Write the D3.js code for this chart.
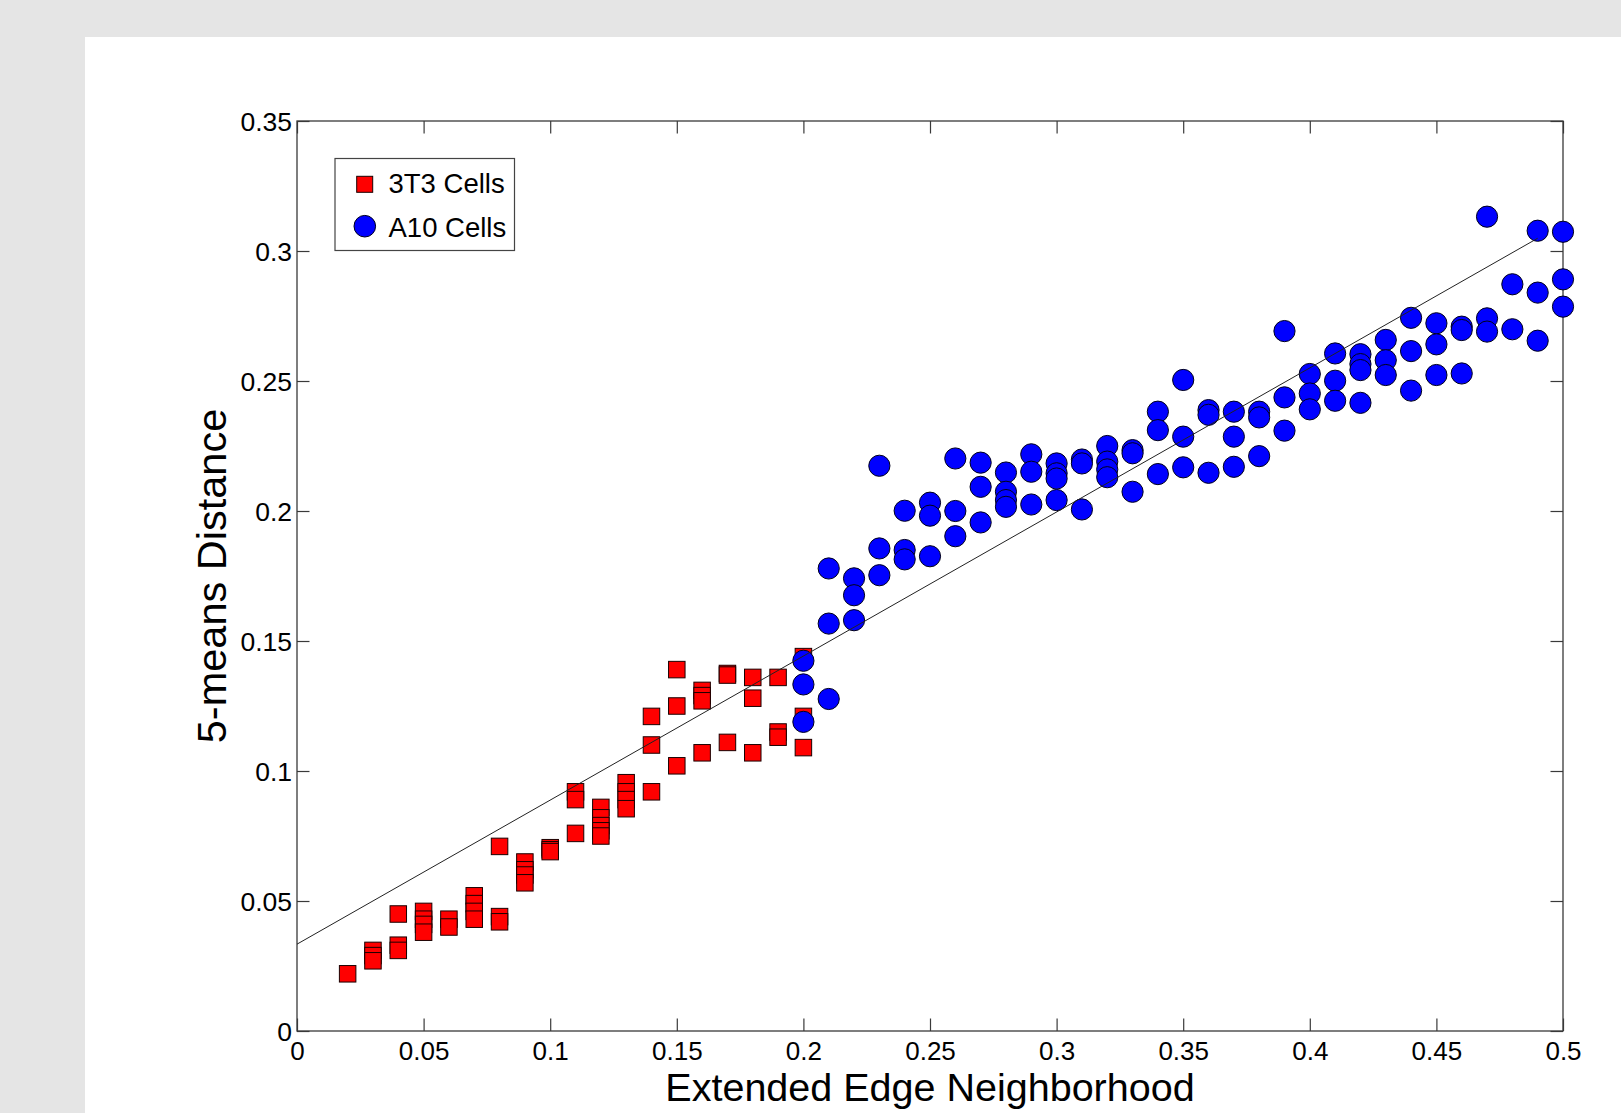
<!DOCTYPE html>
<html>
<head>
<meta charset="utf-8">
<script src="https://cdn.jsdelivr.net/npm/d3@7"></script>
<style>
html,body{margin:0;padding:0;background:#e5e5e5;overflow:hidden}
svg{display:block}
text{font-family:"Liberation Sans",Arial,Helvetica,sans-serif;fill:#000}
</style>
</head>
<body>
<svg id="chart" width="1621" height="1113"></svg>
<script>
// ---- data ----
const xTickValues = [0, 0.05, 0.1, 0.15, 0.2, 0.25, 0.3, 0.35, 0.4, 0.45, 0.5];
const xTickLabels = ["0", "0.05", "0.1", "0.15", "0.2", "0.25", "0.3", "0.35", "0.4", "0.45", "0.5"];
const yTickValues = [0, 0.05, 0.1, 0.15, 0.2, 0.25, 0.3, 0.35];
const yTickLabels = ["0", "0.05", "0.1", "0.15", "0.2", "0.25", "0.3", "0.35"];

const seriesNames = ["3T3 Cells", "A10 Cells"];
const xAxisTitle = "Extended Edge Neighborhood";
const yAxisTitle = "5-means Distance";

const t3X = [0.02,
  0.03, 0.03, 0.03,
  0.04, 0.04, 0.04,
  0.05, 0.05, 0.05, 0.05,
  0.06, 0.06,
  0.07, 0.07, 0.07, 0.07,
  0.08, 0.08, 0.08,
  0.09, 0.09, 0.09, 0.09,
  0.10, 0.10, 0.10,
  0.11, 0.11, 0.11,
  0.12, 0.12, 0.12, 0.12, 0.12,
  0.13, 0.13, 0.13, 0.13,
  0.14, 0.14, 0.14,
  0.15, 0.15, 0.15,
  0.16, 0.16, 0.16, 0.16,
  0.17, 0.17, 0.17,
  0.18, 0.18, 0.18,
  0.19, 0.19, 0.19,
  0.20, 0.20, 0.20];
const t3Y = [0.022,
  0.031, 0.029, 0.027,
  0.045, 0.033, 0.031,
  0.046, 0.043, 0.041, 0.038,
  0.043, 0.040,
  0.052, 0.049, 0.046, 0.043,
  0.071, 0.044, 0.042,
  0.065, 0.062, 0.060, 0.057,
  0.0705, 0.0697, 0.069,
  0.092, 0.089, 0.076,
  0.086, 0.082, 0.079, 0.077, 0.075,
  0.0955, 0.092, 0.089, 0.0855,
  0.121, 0.110, 0.092,
  0.139, 0.125, 0.102,
  0.131, 0.129, 0.127, 0.107,
  0.1375, 0.1369, 0.111,
  0.136, 0.128, 0.107,
  0.136, 0.115, 0.113,
  0.144, 0.121, 0.109];

const a10X = [0.20, 0.20, 0.20,
  0.21, 0.21, 0.21,
  0.22, 0.22, 0.22,
  0.23, 0.23, 0.23,
  0.24, 0.24, 0.24,
  0.25, 0.25, 0.25,
  0.26, 0.26, 0.26,
  0.27, 0.27, 0.27,
  0.28, 0.28, 0.28, 0.28,
  0.29, 0.29, 0.29,
  0.30, 0.30, 0.30, 0.30,
  0.31, 0.31, 0.31,
  0.32, 0.32, 0.32, 0.32,
  0.33, 0.33, 0.33,
  0.34, 0.34, 0.34,
  0.35, 0.35, 0.35,
  0.36, 0.36, 0.36,
  0.37, 0.37, 0.37,
  0.38, 0.38, 0.38,
  0.39, 0.39, 0.39,
  0.40, 0.40, 0.40,
  0.41, 0.41, 0.41,
  0.42, 0.42, 0.42, 0.42,
  0.43, 0.43, 0.43,
  0.44, 0.44, 0.44,
  0.45, 0.45, 0.45,
  0.46, 0.46, 0.46,
  0.47, 0.47, 0.47,
  0.48, 0.48,
  0.49, 0.49, 0.49,
  0.50, 0.50, 0.50];
const a10Y = [0.1424, 0.1333, 0.1189,
  0.1779, 0.1567, 0.1277,
  0.1741, 0.1676, 0.1580,
  0.2174, 0.1856, 0.1753,
  0.2001, 0.1850, 0.1814,
  0.2032, 0.1982, 0.1826,
  0.2202, 0.2000, 0.1903,
  0.2186, 0.2093, 0.1956,
  0.2148, 0.2074, 0.2042, 0.2016,
  0.2218, 0.2151, 0.2025,
  0.2183, 0.2145, 0.2125, 0.2042,
  0.2198, 0.2183, 0.2006,
  0.2250, 0.2190, 0.2160, 0.2130,
  0.2234, 0.2222, 0.2074,
  0.2382, 0.2311, 0.2142,
  0.2504, 0.2286, 0.2168,
  0.2388, 0.2370, 0.2147,
  0.2382, 0.2286, 0.2170,
  0.2382, 0.2360, 0.2211,
  0.2692, 0.2437, 0.2309,
  0.2527, 0.2452, 0.2391,
  0.2606, 0.2501, 0.2424,
  0.2603, 0.2565, 0.2542, 0.2416,
  0.2658, 0.2580, 0.2523,
  0.2743, 0.2615, 0.2463,
  0.2722, 0.2641, 0.2523,
  0.2709, 0.2696, 0.2529,
  0.3132, 0.2741, 0.2690,
  0.2872, 0.2699,
  0.3078, 0.2840, 0.2655,
  0.3074, 0.2891, 0.2786];

const fitX = [0, 0.49];
const fitY = [0.0334, 0.3049];

// ---- layout ----
const W = 1621, H = 1113;
const plot = {left: 297, right: 1563, top: 121, bottom: 1031};
const tickLen = 12.5;
const sqSize = 16.5, circR = 10.6;

const svg = d3.select("#chart");
svg.append("rect").attr("x", 0).attr("y", 0).attr("width", W).attr("height", H).attr("fill", "#e5e5e5");
svg.append("rect").attr("x", 85).attr("y", 37).attr("width", W - 85).attr("height", H - 37).attr("fill", "#ffffff");

const x = d3.scaleLinear().domain([0, 0.5]).range([plot.left, plot.right]);
const y = d3.scaleLinear().domain([0, 0.35]).range([plot.bottom, plot.top]);

const axisColor = "#3a3a3a";

svg.append("rect").attr("x", plot.left).attr("y", plot.top)
  .attr("width", plot.right - plot.left).attr("height", plot.bottom - plot.top)
  .attr("fill", "#fff");

const xLab = d3.scaleOrdinal().domain(xTickValues).range(xTickLabels);
const yLab = d3.scaleOrdinal().domain(yTickValues).range(yTickLabels);

const gx = svg.append("g").attr("transform", `translate(0,${plot.bottom})`)
  .call(d3.axisBottom(x).tickValues(xTickValues).tickFormat(d => xLab(d)).tickSizeInner(-tickLen).tickSizeOuter(0));
const gxt = svg.append("g").attr("transform", `translate(0,${plot.top})`)
  .call(d3.axisTop(x).tickValues(xTickValues).tickFormat("").tickSizeInner(-tickLen).tickSizeOuter(0));
const gy = svg.append("g").attr("transform", `translate(${plot.left},0)`)
  .call(d3.axisLeft(y).tickValues(yTickValues).tickFormat(d => yLab(d)).tickSizeInner(-tickLen).tickSizeOuter(0));
const gyr = svg.append("g").attr("transform", `translate(${plot.right},0)`)
  .call(d3.axisRight(y).tickValues(yTickValues).tickFormat("").tickSizeInner(-tickLen).tickSizeOuter(0));

[gx, gxt, gy, gyr].forEach(g => {
  g.select(".domain").remove();
  g.selectAll(".tick line").attr("stroke", axisColor).attr("stroke-width", 1.2);
  g.attr("font-family", null).attr("font-size", null);
});

gx.selectAll(".tick text")
  .attr("y", 28.8).attr("dy", null)
  .attr("font-size", 26).attr("text-anchor", "middle");
gy.selectAll(".tick text")
  .attr("x", -5).attr("dy", null).attr("y", 9.4)
  .attr("font-size", 26.5).attr("text-anchor", "end");

svg.append("rect").attr("x", plot.left).attr("y", plot.top)
  .attr("width", plot.right - plot.left).attr("height", plot.bottom - plot.top)
  .attr("fill", "none").attr("stroke", axisColor).attr("stroke-width", 1.3);

const t3 = t3X.map((v, i) => ({x: v, y: t3Y[i]}));
const a10 = a10X.map((v, i) => ({x: v, y: a10Y[i]}));

svg.append("g").selectAll("rect").data(t3).join("rect")
  .attr("x", d => x(d.x) - sqSize / 2).attr("y", d => y(d.y) - sqSize / 2)
  .attr("width", sqSize).attr("height", sqSize)
  .attr("fill", "#ff0000").attr("stroke", "#1a0000").attr("stroke-width", 1);

svg.append("g").selectAll("circle").data(a10).join("circle")
  .attr("cx", d => x(d.x)).attr("cy", d => y(d.y)).attr("r", circR)
  .attr("fill", "#0000ff").attr("stroke", "#00001a").attr("stroke-width", 1);

const fit = fitX.map((v, i) => ({x: v, y: fitY[i]}));
svg.append("path").datum(fit)
  .attr("d", d3.line().x(d => x(d.x)).y(d => y(d.y)))
  .attr("fill", "none").attr("stroke", "#222").attr("stroke-width", 1);

svg.append("text").attr("x", (plot.left + plot.right) / 2).attr("y", 1101)
  .attr("text-anchor", "middle").attr("font-size", 39.5).text(xAxisTitle);
svg.append("text")
  .attr("transform", `translate(226,${(plot.top + plot.bottom) / 2}) rotate(-90)`)
  .attr("text-anchor", "middle").attr("font-size", 41.5).text(yAxisTitle);

const lg = svg.append("g");
lg.append("rect").attr("x", 335).attr("y", 158.5).attr("width", 179.5).attr("height", 92)
  .attr("fill", "#fff").attr("stroke", "#444").attr("stroke-width", 1.2);
lg.append("rect").attr("x", 364.7 - 8).attr("y", 184.3 - 8).attr("width", 16).attr("height", 16)
  .attr("fill", "#ff0000").attr("stroke", "#1a0000").attr("stroke-width", 1);
lg.append("circle").attr("cx", 364.8).attr("cy", 226.2).attr("r", 10.8)
  .attr("fill", "#0000ff").attr("stroke", "#00001a").attr("stroke-width", 1);
lg.append("text").attr("x", 388.5).attr("y", 193.3).attr("font-size", 27.5).text(seriesNames[0]);
lg.append("text").attr("x", 388.5).attr("y", 236.5).attr("font-size", 27.5).text(seriesNames[1]);
</script>
</body>
</html>
